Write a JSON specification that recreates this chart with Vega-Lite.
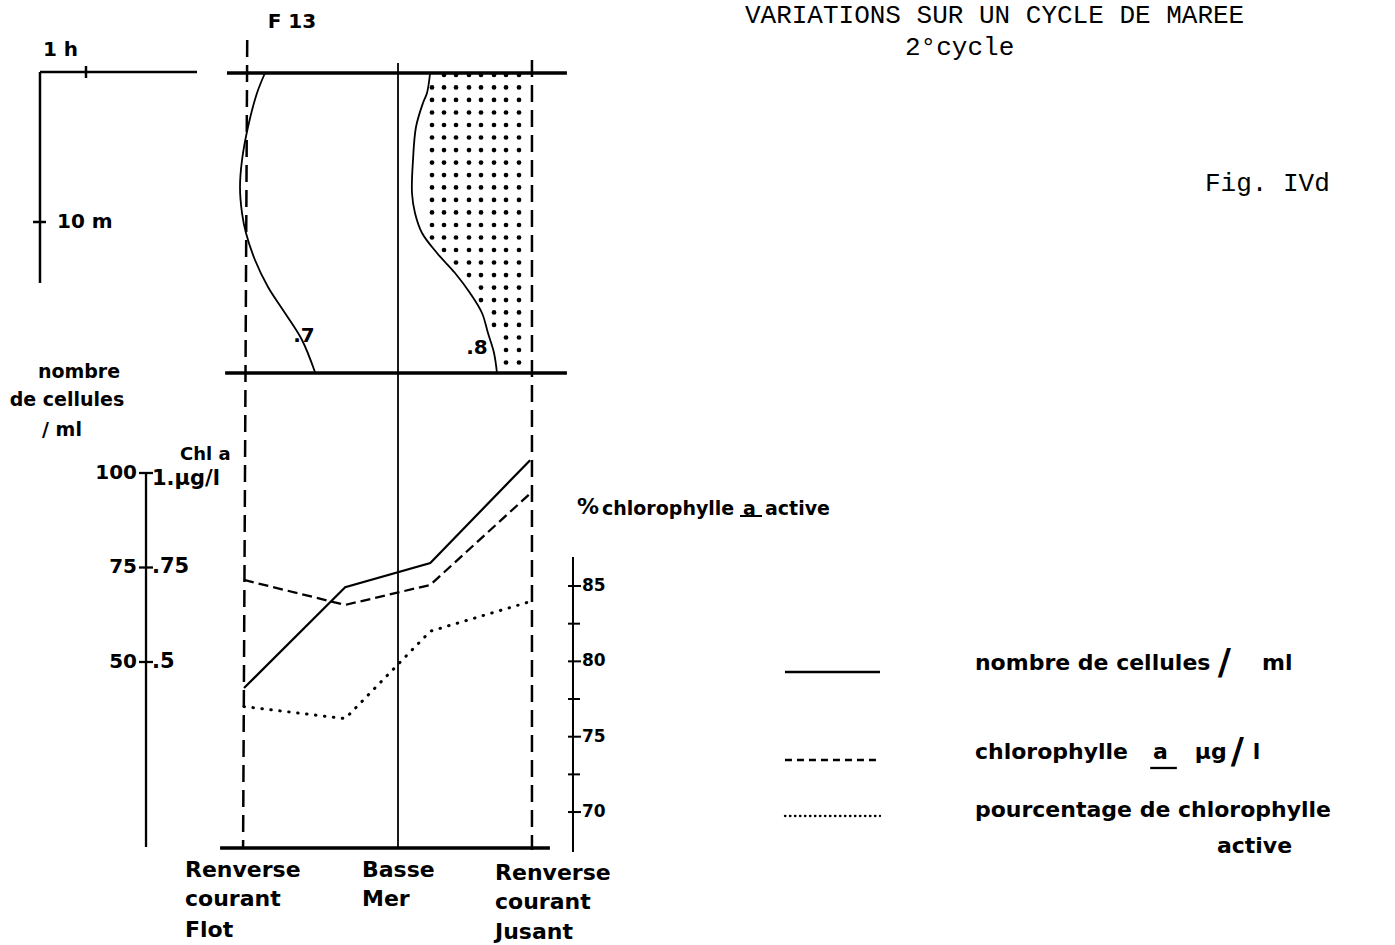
{
"$schema":"https://vega.github.io/schema/vega-lite/v6.json",
"width":1395,"height":945,"autosize":"none","padding":0,"background":"white",
"config":{"view":{"stroke":null},"text":{"font":"DejaVu Sans","fontWeight":"bold","color":"black","baseline":"middle","align":"left"},"rule":{"color":"black"},"line":{"color":"black"}},
"datasets":{
"d_thick":[{"h":-0.37,"h2":7.02,"v":0,"v2":0},{"h":-0.41,"h2":7.02,"v":20.134,"v2":20.134},{"h":-0.52,"h2":6.65,"v":52.01,"v2":52.01}],
"d_med":[{"h":-4.435,"h2":-1.022,"v":-0.067,"v2":-0.067},{"h":-4.435,"h2":-4.435,"v":-0.067,"v2":14.09},{"h":-3.435,"h2":-3.435,"v":-0.47,"v2":0.336},{"h":-4.587,"h2":-4.304,"v":10.0,"v2":10.0}],
"d_thin":[{"h":3.348,"h2":3.348,"v":-0.671,"v2":52.01}],
"d_dash":[{"h":0.07,"h2":-0.02,"v":-2.215,"v2":52.01},{"h":6.26,"h2":6.26,"v":-0.872,"v2":52.15}],
"profiles":[
{"s":"Flot","h":0.457,"v":0},{"s":"Flot","h":0.283,"v":1.34},{"s":"Flot","h":0.087,"v":3.62},{"s":"Flot","h":-0.043,"v":5.84},{"s":"Flot","h":-0.087,"v":7.65},{"s":"Flot","h":-0.043,"v":9.40},{"s":"Flot","h":0.043,"v":10.74},{"s":"Flot","h":0.239,"v":12.55},{"s":"Flot","h":0.522,"v":14.36},{"s":"Flot","h":0.891,"v":16.11},{"s":"Flot","h":1.261,"v":17.92},{"s":"Flot","h":1.543,"v":20.07},
{"s":"Jusant","h":4.043,"v":0.067},{"s":"Jusant","h":3.978,"v":1.342},{"s":"Jusant","h":3.891,"v":2.013},{"s":"Jusant","h":3.739,"v":3.624},{"s":"Jusant","h":3.674,"v":5.839},{"s":"Jusant","h":3.652,"v":8.054},{"s":"Jusant","h":3.717,"v":9.396},{"s":"Jusant","h":3.870,"v":10.738},{"s":"Jusant","h":4.196,"v":12.081},{"s":"Jusant","h":4.587,"v":13.423},{"s":"Jusant","h":4.913,"v":14.765},{"s":"Jusant","h":5.174,"v":16.107},{"s":"Jusant","h":5.304,"v":17.45},{"s":"Jusant","h":5.435,"v":18.792},{"s":"Jusant","h":5.5,"v":20.134}],
"stipple":[
{"v":0.13,"hs":[4.348,4.609,4.891,5.152,5.435,5.696,5.978]},
{"v":0.97,"hs":[4.087,4.348,4.609,4.891,5.152,5.435,5.696,5.978]},
{"v":1.81,"hs":[4.087,4.348,4.609,4.891,5.152,5.435,5.696,5.978]},
{"v":2.65,"hs":[4.087,4.348,4.609,4.891,5.152,5.435,5.696,5.978]},
{"v":3.49,"hs":[4.087,4.348,4.609,4.891,5.152,5.435,5.696,5.978]},
{"v":4.33,"hs":[4.087,4.348,4.609,4.891,5.152,5.435,5.696,5.978]},
{"v":5.17,"hs":[4.087,4.348,4.609,4.891,5.152,5.435,5.696,5.978]},
{"v":6.01,"hs":[4.087,4.348,4.609,4.891,5.152,5.435,5.696,5.978]},
{"v":6.85,"hs":[4.087,4.348,4.609,4.891,5.152,5.435,5.696,5.978]},
{"v":7.68,"hs":[4.087,4.348,4.609,4.891,5.152,5.435,5.696,5.978]},
{"v":8.52,"hs":[4.087,4.348,4.609,4.891,5.152,5.435,5.696,5.978]},
{"v":9.36,"hs":[4.087,4.348,4.609,4.891,5.152,5.435,5.696,5.978]},
{"v":10.2,"hs":[4.087,4.348,4.609,4.891,5.152,5.435,5.696,5.978]},
{"v":11.04,"hs":[4.087,4.348,4.609,4.891,5.152,5.435,5.696,5.978]},
{"v":11.88,"hs":[4.348,4.609,4.891,5.152,5.435,5.696,5.978]},
{"v":12.72,"hs":[4.609,4.891,5.152,5.435,5.696,5.978]},
{"v":13.56,"hs":[4.891,5.152,5.435,5.696,5.978]},
{"v":14.40,"hs":[5.152,5.435,5.696,5.978]},
{"v":15.24,"hs":[5.152,5.435,5.696,5.978]},
{"v":16.07,"hs":[5.435,5.696,5.978]},
{"v":16.91,"hs":[5.435,5.696,5.978]},
{"v":17.75,"hs":[5.696,5.978]},
{"v":18.59,"hs":[5.696,5.978]},
{"v":19.43,"hs":[5.696,5.978]}],
"d_mono":[{"h":10.89,"v":-3.356,"t":"VARIATIONS SUR UN CYCLE DE MAREE"},{"h":14.37,"v":-1.208,"t":"2°cycle"},{"h":20.89,"v":7.92,"t":"Fig. IVd"}],
"d_lab":[{"h":-4.37,"v":-1.54,"t":"1 h"},{"h":-4.065,"v":10.0,"t":"10 m"}],
"d_ctr":[{"h":1.043,"v":-3.423,"t":"F 13"},{"h":1.304,"v":17.65,"t":".7"},{"h":5.065,"v":18.46,"t":".8"}],
"c_rules":[{"h":-2.13,"h2":-2.13,"v":100,"v2":1.06},{"h":-2.283,"h2":-1.978,"v":100,"v2":100},{"h":-2.283,"h2":-1.978,"v":75,"v2":75},{"h":-2.283,"h2":-1.978,"v":50,"v2":50},{"h":11.76,"h2":13.826,"v":47.35,"v2":47.35},{"h":19.70,"h2":20.28,"v":21.96,"v2":21.96}],
"c_legdash":[{"h":11.76,"h2":13.826,"v":24.07,"v2":24.07}],
"c_legdot":[{"h":11.76,"h2":13.826,"v":9.26,"v2":9.26}],
"cells":[{"h":0,"v":43.1},{"h":2.2,"v":69.8},{"h":4.05,"v":76.2},{"h":6.22,"v":103.4}],
"c_small":[{"h":-3.587,"v":126.7,"t":"nombre"},{"h":-3.848,"v":119.3,"t":"de  cellules"},{"h":-3.957,"v":111.4,"t":"/ ml"}],
"c_chl":[{"h":-1.39,"v":104.76,"t":"Chl a"}],
"c_num":[{"h":-2.326,"v":100,"t":"100"},{"h":-2.326,"v":75,"t":"75"},{"h":-2.326,"v":50,"t":"50"}],
"c_xlab":[{"h":-1.283,"v":-5.03,"t":"Renverse"},{"h":-1.283,"v":-12.7,"t":"courant"},{"h":-1.283,"v":-20.9,"t":"Flot"},{"h":2.565,"v":-5.03,"t":"Basse"},{"h":2.565,"v":-12.7,"t":"Mer"},{"h":5.457,"v":-5.82,"t":"Renverse"},{"h":5.457,"v":-13.49,"t":"courant"},{"h":5.457,"v":-21.43,"t":"Jusant"}],
"c_leg":[{"h":15.89,"v":49.74,"t":"nombre de cellules"},{"h":22.13,"v":49.74,"t":"ml"},{"h":15.89,"v":26.19,"t":"chlorophylle"},{"h":19.76,"v":26.19,"t":"a"},{"h":20.67,"v":26.19,"t":"µg"},{"h":21.93,"v":26.19,"t":"l"},{"h":15.89,"v":10.85,"t":"pourcentage  de  chlorophylle"},{"h":21.15,"v":1.32,"t":"active"}],
"c_slash":[{"h":21.17,"v":49.74,"t":"/"},{"h":21.45,"v":26.19,"t":"/"}],
"chl":[{"h":0,"v":0.717},{"h":2.2,"v":0.651},{"h":4.05,"v":0.704},{"h":6.26,"v":0.95}],
"chl_txt":[{"h":-2.0,"v":0.985,"t":"1.µg/l"},{"h":-2.0,"v":0.75,"t":".75"},{"h":-2.0,"v":0.5,"t":".5"}],
"pct":[{"h":0,"v":77.0},{"h":2.2,"v":76.2},{"h":4.05,"v":82.0},{"h":6.15,"v":83.9}],
"p_rules":[{"h":7.152,"h2":7.152,"v":86.92,"v2":67.35},{"h":7.043,"h2":7.326,"v":85,"v2":85},{"h":7.043,"h2":7.304,"v":82.5,"v2":82.5},{"h":7.043,"h2":7.326,"v":80,"v2":80},{"h":7.043,"h2":7.304,"v":77.5,"v2":77.5},{"h":7.043,"h2":7.326,"v":75,"v2":75},{"h":7.043,"h2":7.304,"v":72.5,"v2":72.5},{"h":7.043,"h2":7.326,"v":70,"v2":70},{"h":10.783,"h2":11.261,"v":89.645,"v2":89.645}],
"p_num":[{"h":7.348,"v":85,"t":"85"},{"h":7.348,"v":80,"t":"80"},{"h":7.348,"v":75,"t":"75"},{"h":7.348,"v":70,"t":"70"}],
"p_pct":[{"h":7.239,"v":90.24,"t":"%"}],
"p_small":[{"h":7.783,"v":90.1,"t":"chlorophylle"},{"h":10.848,"v":90.1,"t":"a"},{"h":11.326,"v":90.1,"t":"active"}]
},
"resolve":{"scale":{"y":"independent"}},
"layer":[
{
"encoding":{"x":{"field":"h","type":"quantitative","scale":{"domain":[-5.3043,25.0217],"nice":false,"zero":false},"axis":null},
"y":{"field":"v","type":"quantitative","scale":{"domain":[-4.899,58.523],"reverse":true,"nice":false,"zero":false},"axis":null}},
"layer":[
{"data":{"name":"d_thick"},"mark":{"type":"rule","strokeWidth":3.5},"encoding":{"x2":{"field":"h2"},"y2":{"field":"v2"}}},
{"data":{"name":"d_med"},"mark":{"type":"rule","strokeWidth":2.5},"encoding":{"x2":{"field":"h2"},"y2":{"field":"v2"}}},
{"data":{"name":"d_thin"},"mark":{"type":"rule","strokeWidth":1.8},"encoding":{"x2":{"field":"h2"},"y2":{"field":"v2"}}},
{"data":{"name":"d_dash"},"mark":{"type":"rule","strokeWidth":2.5,"strokeDash":[17,8]},"encoding":{"x2":{"field":"h2"},"y2":{"field":"v2"}}},
{"data":{"name":"profiles"},"mark":{"type":"line","strokeWidth":1.8,"interpolate":"catmull-rom"},"encoding":{"detail":{"field":"s"},"order":{"field":"v"}}},
{"data":{"name":"stipple"},"transform":[{"flatten":["hs"],"as":["h"]}],"mark":{"type":"point","filled":true,"size":22,"opacity":1,"color":"black"}},
{"data":{"name":"d_mono"},"mark":{"type":"text","font":"Liberation Mono","fontWeight":"normal","fontSize":26,"baseline":"alphabetic"},"encoding":{"text":{"field":"t"}}},
{"data":{"name":"d_lab"},"mark":{"type":"text","fontSize":20},"encoding":{"text":{"field":"t"}}},
{"data":{"name":"d_ctr"},"mark":{"type":"text","fontSize":20,"align":"center"},"encoding":{"text":{"field":"t"}}}
]
},
{
"encoding":{"x":{"field":"h","type":"quantitative","scale":{"domain":[-5.3043,25.0217],"nice":false,"zero":false},"axis":null},
"y":{"field":"v","type":"quantitative","scale":{"domain":[-24.868,225.132],"nice":false,"zero":false},"axis":null}},
"layer":[
{"data":{"name":"c_rules"},"mark":{"type":"rule","strokeWidth":2.3},"encoding":{"x2":{"field":"h2"},"y2":{"field":"v2"}}},
{"data":{"name":"c_legdash"},"mark":{"type":"rule","strokeWidth":2.3,"strokeDash":[7,5]},"encoding":{"x2":{"field":"h2"},"y2":{"field":"v2"}}},
{"data":{"name":"c_legdot"},"mark":{"type":"rule","strokeWidth":2.3,"strokeDash":[0.5,4.5],"strokeCap":"round"},"encoding":{"x2":{"field":"h2"},"y2":{"field":"v2"}}},
{"data":{"name":"cells"},"mark":{"type":"line","strokeWidth":2.2},"encoding":{}},
{"data":{"name":"c_small"},"mark":{"type":"text","fontSize":19,"align":"center"},"encoding":{"text":{"field":"t"}}},
{"data":{"name":"c_chl"},"mark":{"type":"text","fontSize":18},"encoding":{"text":{"field":"t"}}},
{"data":{"name":"c_num"},"mark":{"type":"text","fontSize":20,"align":"right"},"encoding":{"text":{"field":"t"}}},
{"data":{"name":"c_xlab"},"mark":{"type":"text","fontSize":22},"encoding":{"text":{"field":"t"}}},
{"data":{"name":"c_leg"},"mark":{"type":"text","fontSize":22},"encoding":{"text":{"field":"t"}}},
{"data":{"name":"c_slash"},"mark":{"type":"text","fontSize":36},"encoding":{"text":{"field":"t"}}}
]
},
{
"encoding":{"x":{"field":"h","type":"quantitative","scale":{"domain":[-5.3043,25.0217],"nice":false,"zero":false},"axis":null},
"y":{"field":"v","type":"quantitative","scale":{"domain":[-0.24868,2.25132],"nice":false,"zero":false},"axis":null}},
"layer":[
{"data":{"name":"chl"},"mark":{"type":"line","strokeWidth":2.3,"strokeDash":[10,5]},"encoding":{}},
{"data":{"name":"chl_txt"},"mark":{"type":"text","fontSize":21},"encoding":{"text":{"field":"t"}}}
]
},
{
"encoding":{"x":{"field":"h","type":"quantitative","scale":{"domain":[-5.3043,25.0217],"nice":false,"zero":false},"axis":null},
"y":{"field":"v","type":"quantitative","scale":{"domain":[61.178,123.885],"nice":false,"zero":false},"axis":null}},
"layer":[
{"data":{"name":"pct"},"mark":{"type":"line","strokeWidth":3,"strokeDash":[0.5,8.5],"strokeCap":"round"},"encoding":{}},
{"data":{"name":"p_rules"},"mark":{"type":"rule","strokeWidth":2},"encoding":{"x2":{"field":"h2"},"y2":{"field":"v2"}}},
{"data":{"name":"p_num"},"mark":{"type":"text","fontSize":17},"encoding":{"text":{"field":"t"}}},
{"data":{"name":"p_pct"},"mark":{"type":"text","fontSize":22},"encoding":{"text":{"field":"t"}}},
{"data":{"name":"p_small"},"mark":{"type":"text","fontSize":19},"encoding":{"text":{"field":"t"}}}
]
}
]
}
